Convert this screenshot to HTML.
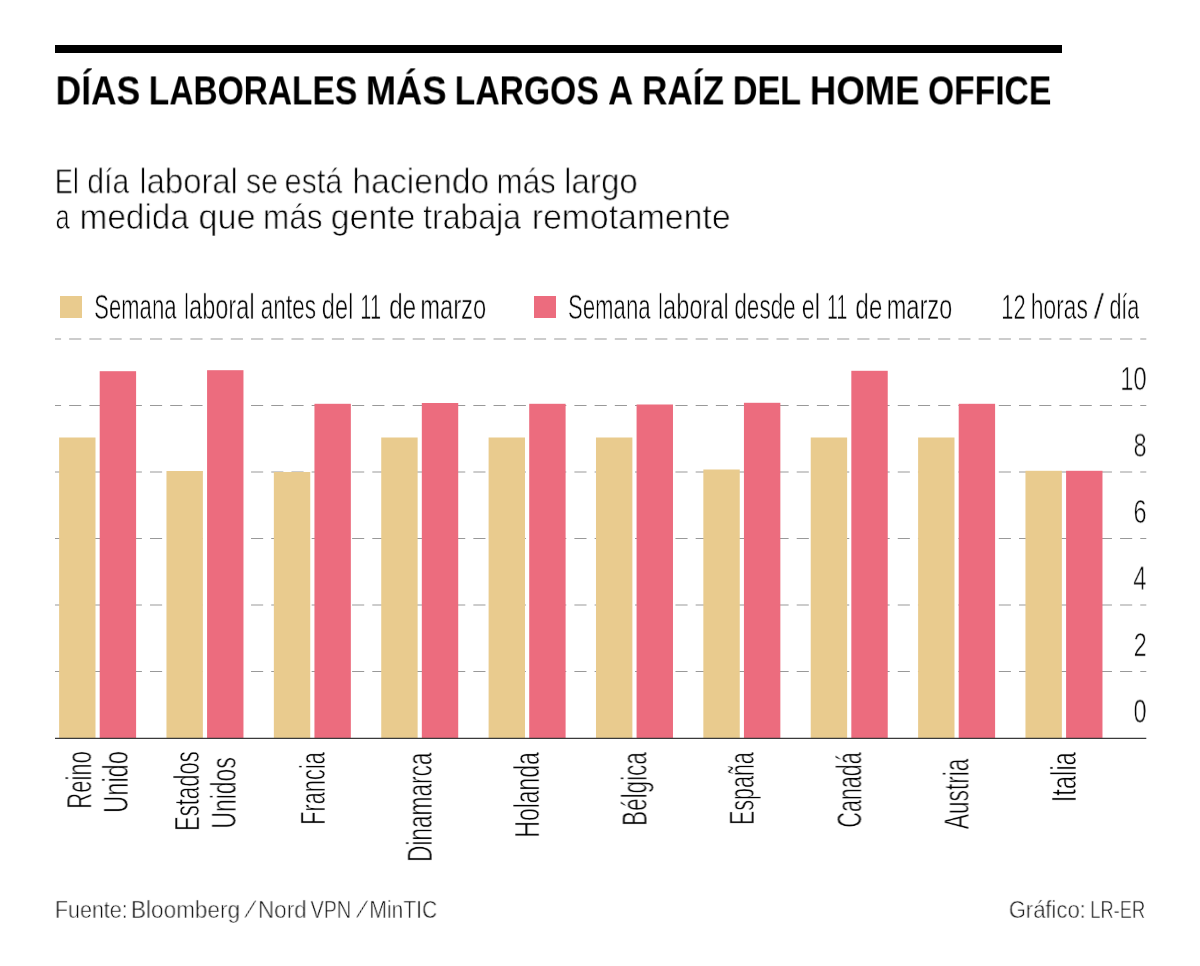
<!DOCTYPE html>
<html lang="es"><head><meta charset="utf-8"><title>Días laborales más largos a raíz del home office</title>
<style>
html,body{margin:0;padding:0;background:#fff;}
body{width:1200px;height:966px;position:relative;overflow:hidden;font-family:"Liberation Sans",sans-serif;}
.chart{position:absolute;left:0;top:0;}
.bar{position:absolute;left:55px;top:45px;width:1007px;height:8px;background:#000;}
.sw{position:absolute;width:22px;height:22px;top:296.2px;}
.t{position:absolute;white-space:nowrap;transform-origin:left top;color:#000;will-change:transform;}
.title{font-weight:bold;color:#000;}
.sub{color:#000;-webkit-text-stroke:0.75px #fff;}
.leg,.ax,.rl{color:#000;-webkit-text-stroke:0.65px #fff;}
.foot{color:#111;-webkit-text-stroke:0.55px #fff;}
.anchor{position:absolute;left:0;top:0;width:0;height:0;transform-origin:0 0;}
</style></head><body>
<div class="bar"></div>
<svg class="chart" width="1200" height="966" viewBox="0 0 1200 966">
<g stroke="#999" stroke-width="1" stroke-dasharray="12.126 8.084" stroke-dashoffset="6.063">
<line x1="55.0" y1="339.0" x2="1146.3" y2="339.0"/>
<line x1="55.0" y1="405.5" x2="1146.3" y2="405.5"/>
<line x1="55.0" y1="472.0" x2="1146.3" y2="472.0"/>
<line x1="55.0" y1="538.5" x2="1146.3" y2="538.5"/>
<line x1="55.0" y1="605.0" x2="1146.3" y2="605.0"/>
<line x1="55.0" y1="671.5" x2="1146.3" y2="671.5"/>
</g>
<g fill="#E9CB8E">
<rect x="59.10" y="437.5" width="36.4" height="300.5"/>
<rect x="166.47" y="471.0" width="36.4" height="267.0"/>
<rect x="273.85" y="472.0" width="36.4" height="266.0"/>
<rect x="381.23" y="437.5" width="36.4" height="300.5"/>
<rect x="488.60" y="437.5" width="36.4" height="300.5"/>
<rect x="595.98" y="437.5" width="36.4" height="300.5"/>
<rect x="703.35" y="469.5" width="36.4" height="268.5"/>
<rect x="810.73" y="437.5" width="36.4" height="300.5"/>
<rect x="918.10" y="437.5" width="36.4" height="300.5"/>
<rect x="1025.47" y="470.8" width="36.4" height="267.2"/>
</g>
<g fill="#EC6C7E">
<rect x="99.70" y="371.2" width="36.4" height="366.8"/>
<rect x="207.07" y="370.2" width="36.4" height="367.8"/>
<rect x="314.45" y="403.8" width="36.4" height="334.2"/>
<rect x="421.82" y="403.0" width="36.4" height="335.0"/>
<rect x="529.20" y="403.8" width="36.4" height="334.2"/>
<rect x="636.58" y="404.5" width="36.4" height="333.5"/>
<rect x="743.95" y="402.8" width="36.4" height="335.2"/>
<rect x="851.33" y="370.8" width="36.4" height="367.2"/>
<rect x="958.70" y="403.8" width="36.4" height="334.2"/>
<rect x="1066.08" y="470.8" width="36.4" height="267.2"/>
</g>
<rect x="55" y="737.75" width="1091.3" height="1.25" fill="#3a3a3a"/>
</svg>
<div class="sw" style="left:60px;background:#E9CB8E"></div>
<div class="sw" style="left:534px;background:#EC6C7E"></div>
<div id="title_0" class="t title" style="left:55px;top:70px;font-size:40.0px;line-height:40.0px;transform:translate(0.63px,0.39px) scaleX(0.8832)">DÍAS</div>
<div id="title_1" class="t title" style="left:148px;top:70px;font-size:40.0px;line-height:40.0px;transform:translate(0.80px,0.39px) scaleX(0.8372)">LABORALES</div>
<div id="title_2" class="t title" style="left:365px;top:70px;font-size:40.0px;line-height:40.0px;transform:translate(0.82px,0.39px) scaleX(0.9074)">MÁS</div>
<div id="title_3" class="t title" style="left:454px;top:70px;font-size:40.0px;line-height:40.0px;transform:translate(0.75px,0.39px) scaleX(0.8415)">LARGOS</div>
<div id="title_4" class="t title" style="left:608px;top:70px;font-size:40.0px;line-height:40.0px;transform:translate(0.09px,0.39px) scaleX(0.8662)">A</div>
<div id="title_5" class="t title" style="left:641px;top:70px;font-size:40.0px;line-height:40.0px;transform:translate(1.00px,0.39px) scaleX(0.8774)">RAÍZ</div>
<div id="title_6" class="t title" style="left:732px;top:70px;font-size:40.0px;line-height:40.0px;transform:translate(0.75px,0.39px) scaleX(0.8547)">DEL</div>
<div id="title_7" class="t title" style="left:809px;top:70px;font-size:40.0px;line-height:40.0px;transform:translate(0.84px,0.39px) scaleX(0.9142)">HOME</div>
<div id="title_8" class="t title" style="left:927px;top:70px;font-size:40.0px;line-height:40.0px;transform:translate(0.98px,0.39px) scaleX(0.8409)">OFFICE</div>
<div id="sub1_0" class="t sub" style="left:54px;top:163px;font-size:35.0px;line-height:35.0px;transform:translate(0.84px,0.27px) scaleX(0.7763)">El</div>
<div id="sub1_1" class="t sub" style="left:87px;top:163px;font-size:35.0px;line-height:35.0px;transform:translate(0.16px,0.27px) scaleX(0.8636)">día</div>
<div id="sub1_2" class="t sub" style="left:139px;top:163px;font-size:35.0px;line-height:35.0px;transform:translate(0.33px,0.27px) scaleX(0.9384)">laboral</div>
<div id="sub1_3" class="t sub" style="left:245px;top:163px;font-size:35.0px;line-height:35.0px;transform:translate(0.88px,0.27px) scaleX(0.8677)">se</div>
<div id="sub1_4" class="t sub" style="left:284px;top:163px;font-size:35.0px;line-height:35.0px;transform:translate(0.65px,0.27px) scaleX(0.8703)">está</div>
<div id="sub1_5" class="t sub" style="left:352px;top:163px;font-size:35.0px;line-height:35.0px;transform:translate(0.21px,0.27px) scaleX(0.9646)">haciendo</div>
<div id="sub1_6" class="t sub" style="left:496px;top:163px;font-size:35.0px;line-height:35.0px;transform:translate(0.39px,0.27px) scaleX(0.8997)">más</div>
<div id="sub1_7" class="t sub" style="left:564px;top:163px;font-size:35.0px;line-height:35.0px;transform:translate(0.00px,0.27px) scaleX(0.9494)">largo</div>
<div id="sub2_0" class="t sub" style="left:55px;top:198px;font-size:35.0px;line-height:35.0px;transform:translate(0.48px,0.92px) scaleX(0.7308)">a</div>
<div id="sub2_1" class="t sub" style="left:79px;top:198px;font-size:35.0px;line-height:35.0px;transform:translate(0.49px,0.92px) scaleX(0.9545)">medida</div>
<div id="sub2_2" class="t sub" style="left:198px;top:198px;font-size:35.0px;line-height:35.0px;transform:translate(0.45px,0.92px) scaleX(0.9776)">que</div>
<div id="sub2_3" class="t sub" style="left:262px;top:198px;font-size:35.0px;line-height:35.0px;transform:translate(0.93px,0.92px) scaleX(0.9030)">más</div>
<div id="sub2_4" class="t sub" style="left:330px;top:198px;font-size:35.0px;line-height:35.0px;transform:translate(0.72px,0.92px) scaleX(0.9679)">gente</div>
<div id="sub2_5" class="t sub" style="left:423px;top:198px;font-size:35.0px;line-height:35.0px;transform:translate(0.04px,0.92px) scaleX(0.9154)">trabaja</div>
<div id="sub2_6" class="t sub" style="left:531px;top:198px;font-size:35.0px;line-height:35.0px;transform:translate(0.76px,0.92px) scaleX(0.9644)">remotamente</div>
<div id="leg1_0" class="t leg" style="left:94px;top:288px;font-size:35.2px;line-height:35.2px;transform:translate(0.16px,0.85px) scaleX(0.6278)">Semana</div>
<div id="leg1_1" class="t leg" style="left:183px;top:288px;font-size:35.2px;line-height:35.2px;transform:translate(0.85px,0.85px) scaleX(0.6690)">laboral</div>
<div id="leg1_2" class="t leg" style="left:260px;top:288px;font-size:35.2px;line-height:35.2px;transform:translate(0.69px,0.85px) scaleX(0.6426)">antes</div>
<div id="leg1_3" class="t leg" style="left:321px;top:288px;font-size:35.2px;line-height:35.2px;transform:translate(0.79px,0.85px) scaleX(0.6705)">del</div>
<div id="leg1_4" class="t leg" style="left:360px;top:288px;font-size:35.2px;line-height:35.2px;transform:translate(0.22px,0.85px) scaleX(0.5730)">11</div>
<div id="leg1_5" class="t leg" style="left:389px;top:288px;font-size:35.2px;line-height:35.2px;transform:translate(0.16px,0.85px) scaleX(0.6887)">de</div>
<div id="leg1_6" class="t leg" style="left:420px;top:288px;font-size:35.2px;line-height:35.2px;transform:translate(0.28px,0.85px) scaleX(0.6738)">marzo</div>
<div id="leg2_0" class="t leg" style="left:568px;top:288px;font-size:35.2px;line-height:35.2px;transform:translate(0.00px,0.85px) scaleX(0.6293)">Semana</div>
<div id="leg2_1" class="t leg" style="left:657px;top:288px;font-size:35.2px;line-height:35.2px;transform:translate(0.85px,0.85px) scaleX(0.6705)">laboral</div>
<div id="leg2_2" class="t leg" style="left:734px;top:288px;font-size:35.2px;line-height:35.2px;transform:translate(0.36px,0.85px) scaleX(0.6390)">desde</div>
<div id="leg2_3" class="t leg" style="left:801px;top:288px;font-size:35.2px;line-height:35.2px;transform:translate(0.80px,0.85px) scaleX(0.6652)">el</div>
<div id="leg2_4" class="t leg" style="left:826px;top:288px;font-size:35.2px;line-height:35.2px;transform:translate(0.92px,0.85px) scaleX(0.5619)">11</div>
<div id="leg2_5" class="t leg" style="left:855px;top:288px;font-size:35.2px;line-height:35.2px;transform:translate(0.24px,0.85px) scaleX(0.6959)">de</div>
<div id="leg2_6" class="t leg" style="left:886px;top:288px;font-size:35.2px;line-height:35.2px;transform:translate(0.63px,0.85px) scaleX(0.6716)">marzo</div>
<div id="leg3_0" class="t leg" style="left:1001px;top:288px;font-size:35.2px;line-height:35.2px;transform:translate(0.23px,0.85px) scaleX(0.6261)">12</div>
<div id="leg3_1" class="t leg" style="left:1030px;top:288px;font-size:35.2px;line-height:35.2px;transform:translate(0.69px,0.85px) scaleX(0.6501)">horas</div>
<div id="leg3_2" class="t leg" style="left:1095px;top:288px;font-size:35.2px;line-height:35.2px;transform:translate(0.25px,0.85px) skewX(-3deg) scaleX(0.9300)">/</div>
<div id="leg3_3" class="t leg" style="left:1109px;top:288px;font-size:35.2px;line-height:35.2px;transform:translate(0.41px,0.85px) scaleX(0.6104)">día</div>
<div id="foot1_0" class="t foot" style="left:54px;top:898px;font-size:23.3px;line-height:23.3px;transform:translate(0.86px,0.88px) scaleX(0.9225)">Fuente:</div>
<div id="foot1_1" class="t foot" style="left:130px;top:898px;font-size:23.3px;line-height:23.3px;transform:translate(0.91px,0.88px) scaleX(0.9684)">Bloomberg</div>
<div id="foot1_2" class="t foot" style="left:250px;top:898px;font-size:23.3px;line-height:23.3px;transform:translate(1.00px,0.88px) skewX(-20deg) scaleX(0.9300)">/</div>
<div id="foot1_3" class="t foot" style="left:257px;top:898px;font-size:23.3px;line-height:23.3px;transform:translate(0.96px,0.88px) scaleX(0.9661)">Nord</div>
<div id="foot1_4" class="t foot" style="left:310px;top:898px;font-size:23.3px;line-height:23.3px;transform:translate(0.55px,0.88px) scaleX(0.8484)">VPN</div>
<div id="foot1_5" class="t foot" style="left:362px;top:898px;font-size:23.3px;line-height:23.3px;transform:translate(0.75px,0.88px) skewX(-20deg) scaleX(0.9300)">/</div>
<div id="foot1_6" class="t foot" style="left:369px;top:898px;font-size:23.3px;line-height:23.3px;transform:translate(0.34px,0.88px) scaleX(0.9046)">MinTIC</div>
<div id="foot2_0" class="t foot" style="left:1008px;top:898px;font-size:23.3px;line-height:23.3px;transform:translate(0.76px,0.88px) scaleX(0.9436)">Gráfico:</div>
<div id="foot2_1" class="t foot" style="left:1090px;top:898px;font-size:23.3px;line-height:23.3px;transform:translate(0.15px,0.88px) scaleX(0.7888)">LR-ER</div>
<div id="ax10" class="t ax" style="left:1120px;top:362px;font-size:33.0px;line-height:33.0px;transform:translate(0.25px,0.07px) scaleX(0.7200)">10</div>
<div id="ax8" class="t ax" style="left:1133px;top:428px;font-size:33.0px;line-height:33.0px;transform:translate(0.40px,0.57px) scaleX(0.7200)">8</div>
<div id="ax6" class="t ax" style="left:1133px;top:495px;font-size:33.0px;line-height:33.0px;transform:translate(0.40px,0.07px) scaleX(0.7200)">6</div>
<div id="ax4" class="t ax" style="left:1133px;top:561px;font-size:33.0px;line-height:33.0px;transform:translate(0.15px,0.57px) scaleX(0.7200)">4</div>
<div id="ax2" class="t ax" style="left:1133px;top:628px;font-size:33.0px;line-height:33.0px;transform:translate(0.65px,0.07px) scaleX(0.7200)">2</div>
<div id="ax0" class="t ax" style="left:1133px;top:694px;font-size:33.0px;line-height:33.0px;transform:translate(0.40px,0.57px) scaleX(0.7200)">0</div>
<div class="anchor" style="transform:translate(91.10px,751.03px) rotate(-90deg)"><div id="r1a" class="t rl" style="right:0;top:-40px;font-size:35.2px;line-height:35.2px;transform-origin:right top;transform:translateY(10.20px) scaleX(0.6279)">Reino</div></div>
<div class="anchor" style="transform:translate(127.60px,750.94px) rotate(-90deg)"><div id="r1b" class="t rl" style="right:0;top:-40px;font-size:35.2px;line-height:35.2px;transform-origin:right top;transform:translateY(10.20px) scaleX(0.6728)">Unido</div></div>
<div class="anchor" style="transform:translate(198.90px,751.35px) rotate(-90deg)"><div id="r2a" class="t rl" style="right:0;top:-40px;font-size:35.2px;line-height:35.2px;transform-origin:right top;transform:translateY(10.20px) scaleX(0.6277)">Estados</div></div>
<div class="anchor" style="transform:translate(235.55px,756.76px) rotate(-90deg)"><div id="r2b" class="t rl" style="right:0;top:-40px;font-size:35.2px;line-height:35.2px;transform-origin:right top;transform:translateY(10.20px) scaleX(0.6514)">Unidos</div></div>
<div class="anchor" style="transform:translate(324.70px,752.53px) rotate(-90deg)"><div id="r3" class="t rl" style="right:0;top:-40px;font-size:35.2px;line-height:35.2px;transform-origin:right top;transform:translateY(10.20px) scaleX(0.6199)">Francia</div></div>
<div class="anchor" style="transform:translate(431.55px,752.68px) rotate(-90deg)"><div id="r4" class="t rl" style="right:0;top:-40px;font-size:35.2px;line-height:35.2px;transform-origin:right top;transform:translateY(10.20px) scaleX(0.6431)">Dinamarca</div></div>
<div class="anchor" style="transform:translate(538.90px,752.31px) rotate(-90deg)"><div id="r5" class="t rl" style="right:0;top:-40px;font-size:35.2px;line-height:35.2px;transform-origin:right top;transform:translateY(10.20px) scaleX(0.6513)">Holanda</div></div>
<div class="anchor" style="transform:translate(646.40px,752.53px) rotate(-90deg)"><div id="r6" class="t rl" style="right:0;top:-40px;font-size:35.2px;line-height:35.2px;transform-origin:right top;transform:translateY(10.20px) scaleX(0.6395)">Bélgica</div></div>
<div class="anchor" style="transform:translate(753.60px,752.56px) rotate(-90deg)"><div id="r7" class="t rl" style="right:0;top:-40px;font-size:35.2px;line-height:35.2px;transform-origin:right top;transform:translateY(10.20px) scaleX(0.6103)">España</div></div>
<div class="anchor" style="transform:translate(861.20px,752.56px) rotate(-90deg)"><div id="r8" class="t rl" style="right:0;top:-40px;font-size:35.2px;line-height:35.2px;transform-origin:right top;transform:translateY(10.20px) scaleX(0.6113)">Canadá</div></div>
<div class="anchor" style="transform:translate(968.40px,758.17px) rotate(-90deg)"><div id="r9" class="t rl" style="right:0;top:-40px;font-size:35.2px;line-height:35.2px;transform-origin:right top;transform:translateY(10.20px) scaleX(0.6439)">Austria</div></div>
<div class="anchor" style="transform:translate(1075.75px,752.54px) rotate(-90deg)"><div id="r10" class="t rl" style="right:0;top:-40px;font-size:35.2px;line-height:35.2px;transform-origin:right top;transform:translateY(10.20px) scaleX(0.6740)">Italia</div></div>
</body></html>
